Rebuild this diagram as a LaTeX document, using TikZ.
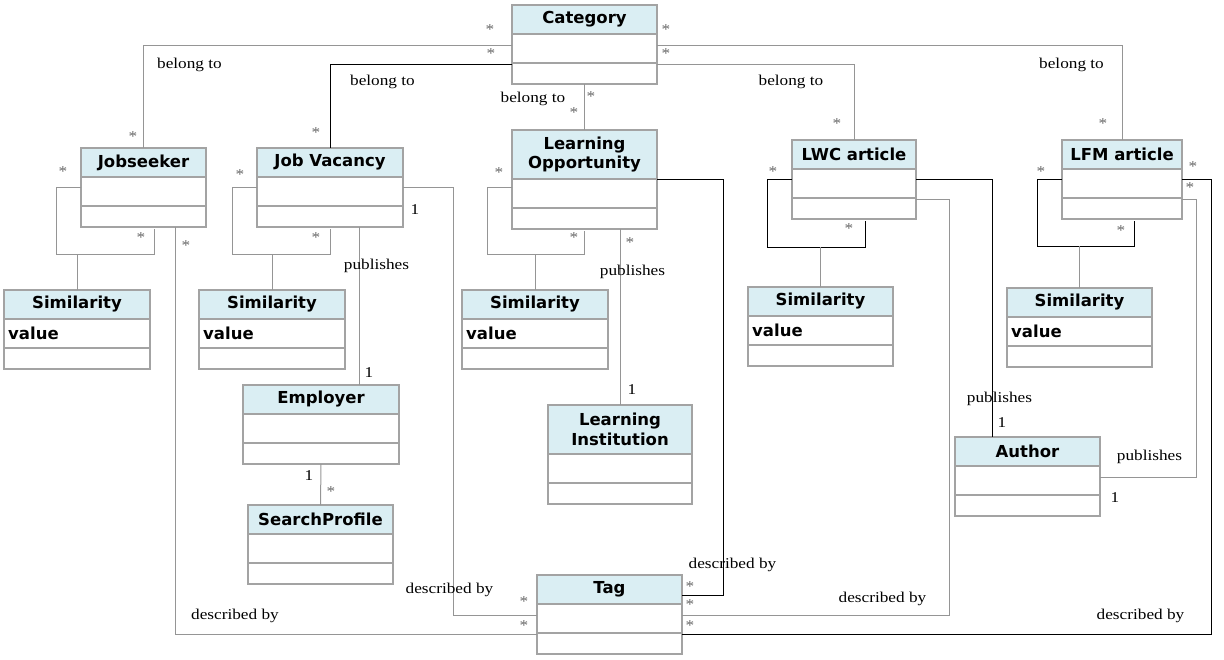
\documentclass[tikz,border=0pt]{standalone}
\usepackage{fontspec}
\setmainfont{Liberation Serif}
\newfontfamily\headfont{DejaVu Sans}
\newfontfamily\labelfont[FakeStretch=1.15]{Liberation Serif}
\definecolor{headblue}{HTML}{DAEEF3}
\definecolor{framegray}{HTML}{A3A3A3}
\definecolor{linegray}{HTML}{959595}

\begin{document}
\begin{tikzpicture}[x=1pt,y=-1pt]

        % Стили:
        \tikzstyle{classhead}=[draw=framegray, fill=headblue, line width=1.2pt,
        minimum height=29pt, inner sep=0pt, outer sep=0pt, align=center,
        font=\headfont\bfseries\fontsize{16.5}{19.5}\selectfont]
        \tikzstyle{classpart}=[draw=framegray, line width=1.2pt, minimum height=29pt,
        inner sep=0pt, outer sep=0pt]
        \tikzstyle{classops}=[classpart, minimum height=21pt]
        \tikzstyle{valtext}=[anchor=west, inner sep=4pt,
        font=\headfont\bfseries\fontsize{16.5}{19.5}\selectfont]
        \tikzstyle{assoc}=[draw, line width=1pt, color=linegray]
        \tikzstyle{assocb}=[assoc, line width=0.9pt, color=black]
        \tikzstyle{lbl}=[inner sep=0pt, font=\labelfont\fontsize{15}{17}\selectfont]
        \tikzstyle{star}=[lbl, text=black!60]

        \newcommand{\klass}[4]{node (#1) [classhead,minimum width=#3,#4,anchor=north west] {#2}
            (#1.south west) node (#1-a) [classpart,minimum width=#3,anchor=north west] {}
            (#1-a.south west) node (#1-o) [classops,minimum width=#3,anchor=north west] {}}
        \newcommand{\mult}[3]{\node (#1) [star] at (#2) {#3};}

        \useasboundingbox (0,0) rectangle (1224,659);

        % Классы:
        \path (512,5) \klass{cat}{Category}{145pt}{};
        \path (81,148) \klass{js}{Jobseeker}{125pt}{};
        \path (257,148) \klass{jv}{Job Vacancy}{146pt}{};
        \path (512,130) \klass{lo}{Learning\\Opportunity}{145pt}{minimum height=49pt};
        \path (792,140) \klass{lwc}{LWC article}{124pt}{};
        \path (1062,140) \klass{lfm}{LFM article}{120pt}{};

        \path (4,290) \klass{s1}{Similarity}{146pt}{};
        \path (199,290) \klass{s2}{Similarity}{146pt}{};
        \path (462,290) \klass{s3}{Similarity}{146pt}{};
        \path (748,287) \klass{s4}{Similarity}{145pt}{};
        \path (1007,288) \klass{s5}{Similarity}{145pt}{};
        \node (s1-v) [valtext] at (s1-a.west) {value};
        \node (s2-v) [valtext] at (s2-a.west) {value};
        \node (s3-v) [valtext] at (s3-a.west) {value};
        \node (s4-v) [valtext] at (s4-a.west) {value};
        \node (s5-v) [valtext] at (s5-a.west) {value};

        \path (243,385) \klass{emp}{Employer}{156pt}{};
        \path (248,505) \klass{sp}{SearchProfile}{145pt}{};
        \path (548,405) \klass{li}{Learning\\Institution}{144pt}{minimum height=49pt};
        \path (955,437) \klass{au}{Author}{145pt}{};
        \path (537,575) \klass{tag}{Tag}{145pt}{};

        % Связи belong to:
        \path [assoc] ([yshift=3.5pt]cat-a.west) -| (js.north);
        \path [assocb] ([yshift=-1pt]cat-a.south west) -| (jv.north);
        \path [assoc] ([yshift=3.5pt]cat-a.east) -| (lfm.north);
        \path [assoc] ([yshift=-1pt]cat-a.south east) -| (lwc.north);
        \path [assoc] (cat-o.south) -- (lo.north);

        % Similarity:
        \path [assoc] ([yshift=4.5pt]js-a.west) -- ++(-25,0) -- ++(0,67) coordinate (js-loop)
            -| ([xshift=10.5pt,yshift=-2pt]js-o.south);
        \path [assoc] ([yshift=4.5pt]jv-a.west) -- ++(-25,0) -- ++(0,67) coordinate (jv-loop)
            -| ([yshift=-2pt]jv-o.south);
        \path [assoc] ([yshift=6.5pt]lo-a.west) -- ++(-25,0) -- ++(0,67) coordinate (lo-loop)
            -| ([yshift=-2pt]lo-o.south);
        \path [assocb] ([yshift=4.5pt]lwc-a.west) -- ++(-25,0) -- ++(0,68) coordinate (lwc-loop)
            -| ([xshift=11pt,yshift=-2pt]lwc-o.south);
        \path [assocb] ([yshift=4.5pt]lfm-a.west) -- ++(-25,0) -- ++(0,67) coordinate (lfm-loop)
            -| ([xshift=12pt,yshift=-2pt]lfm-o.south);
        \path [assoc] (s1.north) -- (s1.north |- js-loop);
        \path [assoc] (s2.north) -- (s2.north |- jv-loop);
        \path [assoc] (s3.north) -- (s3.north |- lo-loop);
        \path [assoc] (s4.north) -- (s4.north |- lwc-loop);
        \path [assoc] (s5.north) -- (s5.north |- lfm-loop);

        % Связи described by:
        \path [assoc] ([xshift=31.5pt]js-o.south) |- ([yshift=-1pt]tag-o.north west);
        \path [assoc] ([yshift=4.5pt]jv-a.east) -- ++(50,0) |- ([yshift=3.5pt]tag-a.west);
        \path [assocb] (lo-a.north east) -- ++(66,0) |- ([yshift=-5.5pt]tag.east);
        \path [assoc] ([yshift=-1pt]lwc-o.north east) -- ++(33,0) |- ([yshift=3.5pt]tag-a.east);
        \path [assocb] ([yshift=4.5pt]lfm-a.east) -- ++(29,0) |- ([yshift=-1pt]tag-o.north east);

        % Связи publishes:
        \path [assoc] ([xshift=29.5pt]jv-o.south) coordinate (jv-pub) -- (jv-pub |- emp.north);
        \path [assoc] (li.north |- lo-o.south) -- (li.north);
        \path [assocb] ([yshift=4.5pt]lwc-a.east) -| ([xshift=-35.5pt]au.north);
        \path [assoc] ([yshift=-1pt]lfm-o.north east) -- ++(14,0) |- ([yshift=3.5pt]au-a.east);
        \path [assoc] (emp-o.south) -- (sp.north);

        % Подписи:
        \node (bt-js) [lbl] at (189.5,65) {belong to};
        \node (bt-jv) [lbl] at (382.5,82) {belong to};
        \node (bt-lo) [lbl] at (533,99) {belong to};
        \node (bt-lwc) [lbl] at (791,82) {belong to};
        \node (bt-lfm) [lbl] at (1071.5,65) {belong to};
        \node (pub-jv) [lbl] at (376.5,266) {publishes};
        \node (pub-lo) [lbl] at (632.5,272) {publishes};
        \node (pub-lwc) [lbl] at (999.5,399) {publishes};
        \node (pub-lfm) [lbl] at (1149.5,457) {publishes};
        \node (db-js) [lbl] at (235,616) {described by};
        \node (db-jv) [lbl] at (449.5,590) {described by};
        \node (db-lo) [lbl] at (732.5,565) {described by};
        \node (db-lwc) [lbl] at (882.5,599) {described by};
        \node (db-lfm) [lbl] at (1140.5,616) {described by};

        % Кратности:
        \mult{m1}{490,30}{*}
        \mult{m2}{491,54}{*}
        \mult{m3}{666,30}{*}
        \mult{m4}{666,54}{*}
        \mult{m5}{591,97}{*}
        \mult{m6}{574,113}{*}
        \mult{m7}{133,137}{*}
        \mult{m8}{63,172}{*}
        \mult{m9}{141,238}{*}
        \mult{m10}{186,246}{*}
        \mult{m11}{316,133}{*}
        \mult{m12}{240,175}{*}
        \mult{m13}{316,238}{*}
        \mult{m14}{499,173}{*}
        \mult{m15}{574,238}{*}
        \mult{m16}{630,243}{*}
        \mult{m17}{837,124}{*}
        \mult{m18}{773,172}{*}
        \mult{m19}{849,229}{*}
        \mult{m20}{1103,124}{*}
        \mult{m21}{1041,172}{*}
        \mult{m22}{1121,231}{*}
        \mult{m23}{1193,167}{*}
        \mult{m24}{1190,188}{*}
        \mult{m25}{331,492}{*}
        \mult{m26}{524,602}{*}
        \mult{m27}{524,626}{*}
        \mult{m28}{690,587}{*}
        \mult{m29}{690,605}{*}
        \mult{m30}{690,626}{*}
        \node (n1) [lbl] at (415,210) {1};
        \node (n2) [lbl] at (369,373) {1};
        \node (n3) [lbl] at (309,476) {1};
        \node (n4) [lbl] at (632,390) {1};
        \node (n5) [lbl] at (1002,423) {1};
        \node (n6) [lbl] at (1115,498) {1};
\end{tikzpicture}
\end{document}
